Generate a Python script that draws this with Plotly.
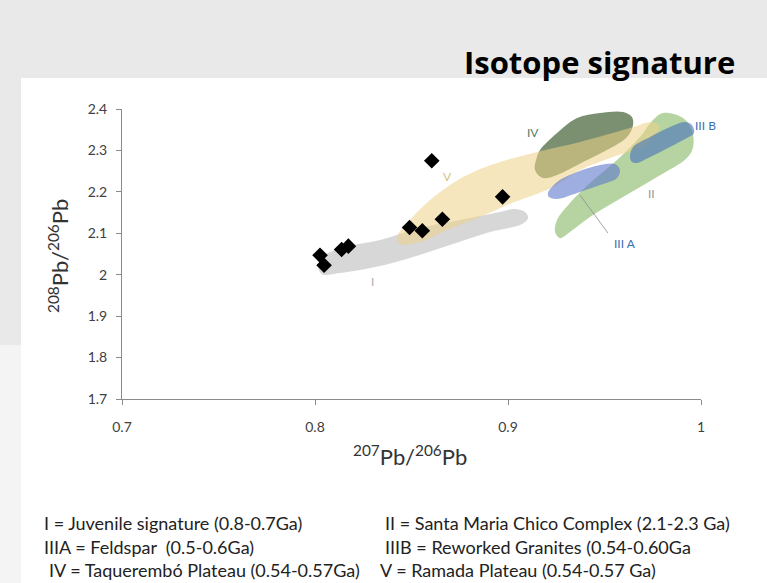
import plotly.graph_objects as go

W, H = 767, 583
# plot area in pixels
L, R, T, B = 122, 701, 109, 399
X0, X1, Y0, Y1 = 0.7, 1.0, 1.7, 2.4

# ---- data: sample points ----
pts_x = [0.8605, 0.8972, 0.8660, 0.8490, 0.8556, 0.8173, 0.8138, 0.8026, 0.8047]
pts_y = [2.275, 2.188, 2.134, 2.114, 2.106, 2.069, 2.061, 2.047, 2.023]

# ---- field outlines (data units) ----
I_x = [0.8016, 0.8052, 0.8155, 0.8337, 0.8544, 0.8751, 0.8959, 0.9036, 0.9088, 0.9104,
       0.9073, 0.8907, 0.8699, 0.8508, 0.8337, 0.8130, 0.8036]
I_y = [2.0232, 2.0473, 2.0667, 2.0836, 2.1126, 2.1319, 2.1512, 2.1585, 2.1512, 2.1367,
       2.1222, 2.1029, 2.0715, 2.0425, 2.0208, 2.0039, 2.0014]

V_x = [0.8425, 0.8492, 0.8596, 0.8767, 0.8943, 0.9150, 0.9373, 0.9632, 0.9746, 0.9788,
       0.9710, 0.9544, 0.9373, 0.9233, 0.8995, 0.8855, 0.8684, 0.8544, 0.8440]
V_y = [2.0908, 2.1319, 2.1802, 2.2357, 2.2696, 2.2961, 2.3203, 2.3541, 2.3686, 2.3565,
       2.3130, 2.2841, 2.2527, 2.2116, 2.1681, 2.1391, 2.1077, 2.0787, 2.0739]

IV_x = [0.9166, 0.9254, 0.9358, 0.9477, 0.9596, 0.9642, 0.9648, 0.9617, 0.9513, 0.9389,
        0.9254, 0.9181, 0.9140, 0.9150]
IV_y = [2.3010, 2.3420, 2.3783, 2.3903, 2.3928, 2.3807, 2.3614, 2.3324, 2.3010, 2.2720,
        2.2406, 2.2333, 2.2527, 2.2841]

II_x = [0.9803, 0.9907, 0.9953, 0.9959, 0.9927, 0.9772, 0.9596, 0.9425, 0.9321, 0.9269,
        0.9244, 0.9254, 0.9321, 0.9425, 0.9565, 0.9684, 0.9751]
II_y = [2.3903, 2.3783, 2.3493, 2.3082, 2.2816, 2.2357, 2.1874, 2.1391, 2.1029, 2.0884,
        2.1029, 2.1319, 2.1729, 2.2213, 2.2768, 2.3324, 2.3734]

IIIA_x = [0.9207, 0.9254, 0.9358, 0.9477, 0.9554, 0.9580, 0.9565, 0.9477, 0.9358, 0.9254, 0.9212]
IIIA_y = [2.1971, 2.2237, 2.2478, 2.2647, 2.2671, 2.2527, 2.2333, 2.2164, 2.1971, 2.1826, 2.1874]

IIIB_x = [0.9632, 0.9648, 0.9736, 0.9839, 0.9917, 0.9953, 0.9964, 0.9927, 0.9839, 0.9736,
          0.9668, 0.9642]
IIIB_y = [2.2841, 2.3082, 2.3324, 2.3565, 2.3686, 2.3614, 2.3420, 2.3300, 2.3082, 2.2841,
          2.2696, 2.2720]

IIIA_leader_x = [0.9373, 0.9518]
IIIA_leader_y = [2.1923, 2.1005]

# ---- ticks ----
x_ticks = [0.7, 0.8, 0.9, 1.0]
x_tick_text = ["0.7", "0.8", "0.9", "1"]
y_ticks = [1.7, 1.8, 1.9, 2.0, 2.1, 2.2, 2.3, 2.4]
y_tick_text = ["1.7", "1.8", "1.9", "2", "2.1", "2.2", "2.3", "2.4"]

# ---- labels ----
field_labels = ["I", "V", "IV", "II", "III A", "III B"]
field_lab_x = [0.830, 0.8684, 0.913, 0.9746, 0.9606, 1.0025]
field_lab_y = [1.983, 2.238, 2.344, 2.197, 2.0763, 2.361]
field_lab_col = ["#b0b0b0", "#d8bf7c", "#4f7d68", "#9a9a9a", "#3d6fb3", "#3d6fb3"]

legend_lines = [
    "I = Juvenile signature (0.8-0.7Ga)",
    "II = Santa Maria Chico Complex (2.1-2.3 Ga)",
    "IIIA = Feldspar  (0.5-0.6Ga)",
    "IIIB = Reworked Granites (0.54-0.60Ga",
    "IV = Taquerembó Plateau (0.54-0.57Ga)",
    "V = Ramada Plateau (0.54-0.57 Ga)",
]

def px(xp):
    return (xp - L) / (R - L)

def py(yp):
    return (B - yp) / (B - T)

fig = go.Figure()

def field(xs, ys, color):
    fig.add_trace(go.Scatter(x=xs + xs[:1], y=ys + ys[:1], mode="lines", fill="toself",
                             fillcolor=color, line=dict(width=0, shape="spline", smoothing=1.0),
                             hoverinfo="skip", showlegend=False, cliponaxis=False))

field(I_x, I_y, "rgba(200,200,200,0.72)")
field(IV_x, IV_y, "rgba(100,125,88,0.85)")
field(II_x, II_y, "rgba(135,185,105,0.62)")
field(V_x, V_y, "rgba(238,210,135,0.55)")
field(IIIA_x, IIIA_y, "rgba(95,120,205,0.6)")
field(IIIB_x, IIIB_y, "rgba(75,115,185,0.62)")

fig.add_trace(go.Scatter(x=IIIA_leader_x, y=IIIA_leader_y, mode="lines",
                         line=dict(color="rgba(140,140,140,0.8)", width=1),
                         hoverinfo="skip", showlegend=False))

fig.add_trace(go.Scatter(x=pts_x, y=pts_y, mode="markers",
                         marker=dict(symbol="diamond", size=12, color="black"),
                         showlegend=False))

ann = []
for t, x, y, c in zip(field_labels, field_lab_x, field_lab_y, field_lab_col):
    # paper-referenced so labels just beyond the axis end stay visible
    ann.append(dict(x=(x - X0) / (X1 - X0), y=(y - Y0) / (Y1 - Y0), xref="paper", yref="paper",
                    xanchor="center", yanchor="middle",
                    text=t, showarrow=False, font=dict(family="Lato", size=12, color=c)))

# background panels
shapes = [
    dict(type="rect", xref="paper", yref="paper", x0=px(0), x1=px(W), y0=py(0), y1=py(78),
         fillcolor="#e9e9e9", line_width=0, layer="below"),
    dict(type="rect", xref="paper", yref="paper", x0=px(0), x1=px(21), y0=py(78), y1=py(345),
         fillcolor="#e9e9e9", line_width=0, layer="below"),
    dict(type="rect", xref="paper", yref="paper", x0=px(0), x1=px(21), y0=py(345), y1=py(H),
         fillcolor="#f4f4f4", line_width=0, layer="below"),
]

ann.append(dict(xref="paper", yref="paper", x=px(737), y=py(62), xanchor="right", yanchor="middle",
                text="<b>Isotope signature</b>", showarrow=False,
                font=dict(family="Open Sans", size=31, color="black")))
ann.append(dict(xref="paper", yref="paper", x=px(58), y=py(256), xanchor="center", yanchor="middle",
                textangle=-90, text="<sup>208</sup>Pb/<sup>206</sup>Pb", showarrow=False,
                font=dict(family="Lato", size=22, color="#333333")))
ann.append(dict(xref="paper", yref="paper", x=px(410), y=py(455), xanchor="center", yanchor="middle",
                text="<sup>207</sup>Pb/<sup>206</sup>Pb", showarrow=False,
                font=dict(family="Lato", size=22, color="#333333")))

leg_x = [42, 383, 42, 383, 47, 378]
leg_y = [523, 523, 547, 547, 570, 570]
for t, lx, ly in zip(legend_lines, leg_x, leg_y):
    ann.append(dict(xref="paper", yref="paper", x=px(lx), y=py(ly), xanchor="left", yanchor="middle",
                    text=t, showarrow=False, font=dict(family="Lato", size=18, color="#222222")))

fig.update_layout(
    width=W, height=H,
    margin=dict(l=L, r=W - R, t=T, b=H - B, pad=0),
    paper_bgcolor="white", plot_bgcolor="white",
    shapes=shapes, annotations=ann,
    xaxis=dict(range=[X0, X1], tickvals=x_ticks, ticktext=x_tick_text, showgrid=False,
               zeroline=False, showline=True, linecolor="#8a8a8a", linewidth=1,
               ticks="outside", ticklen=5, tickcolor="#8a8a8a", ticklabelstandoff=10,
               tickfont=dict(family="Lato", size=14, color="#404040")),
    yaxis=dict(range=[Y0, Y1], tickvals=y_ticks, ticktext=y_tick_text, showgrid=False,
               zeroline=False, showline=True, linecolor="#8a8a8a", linewidth=1,
               ticks="outside", ticklen=5, tickcolor="#8a8a8a", ticklabelstandoff=6,
               tickfont=dict(family="Lato", size=14, color="#404040")),
)

fig.write_html("out.html")
